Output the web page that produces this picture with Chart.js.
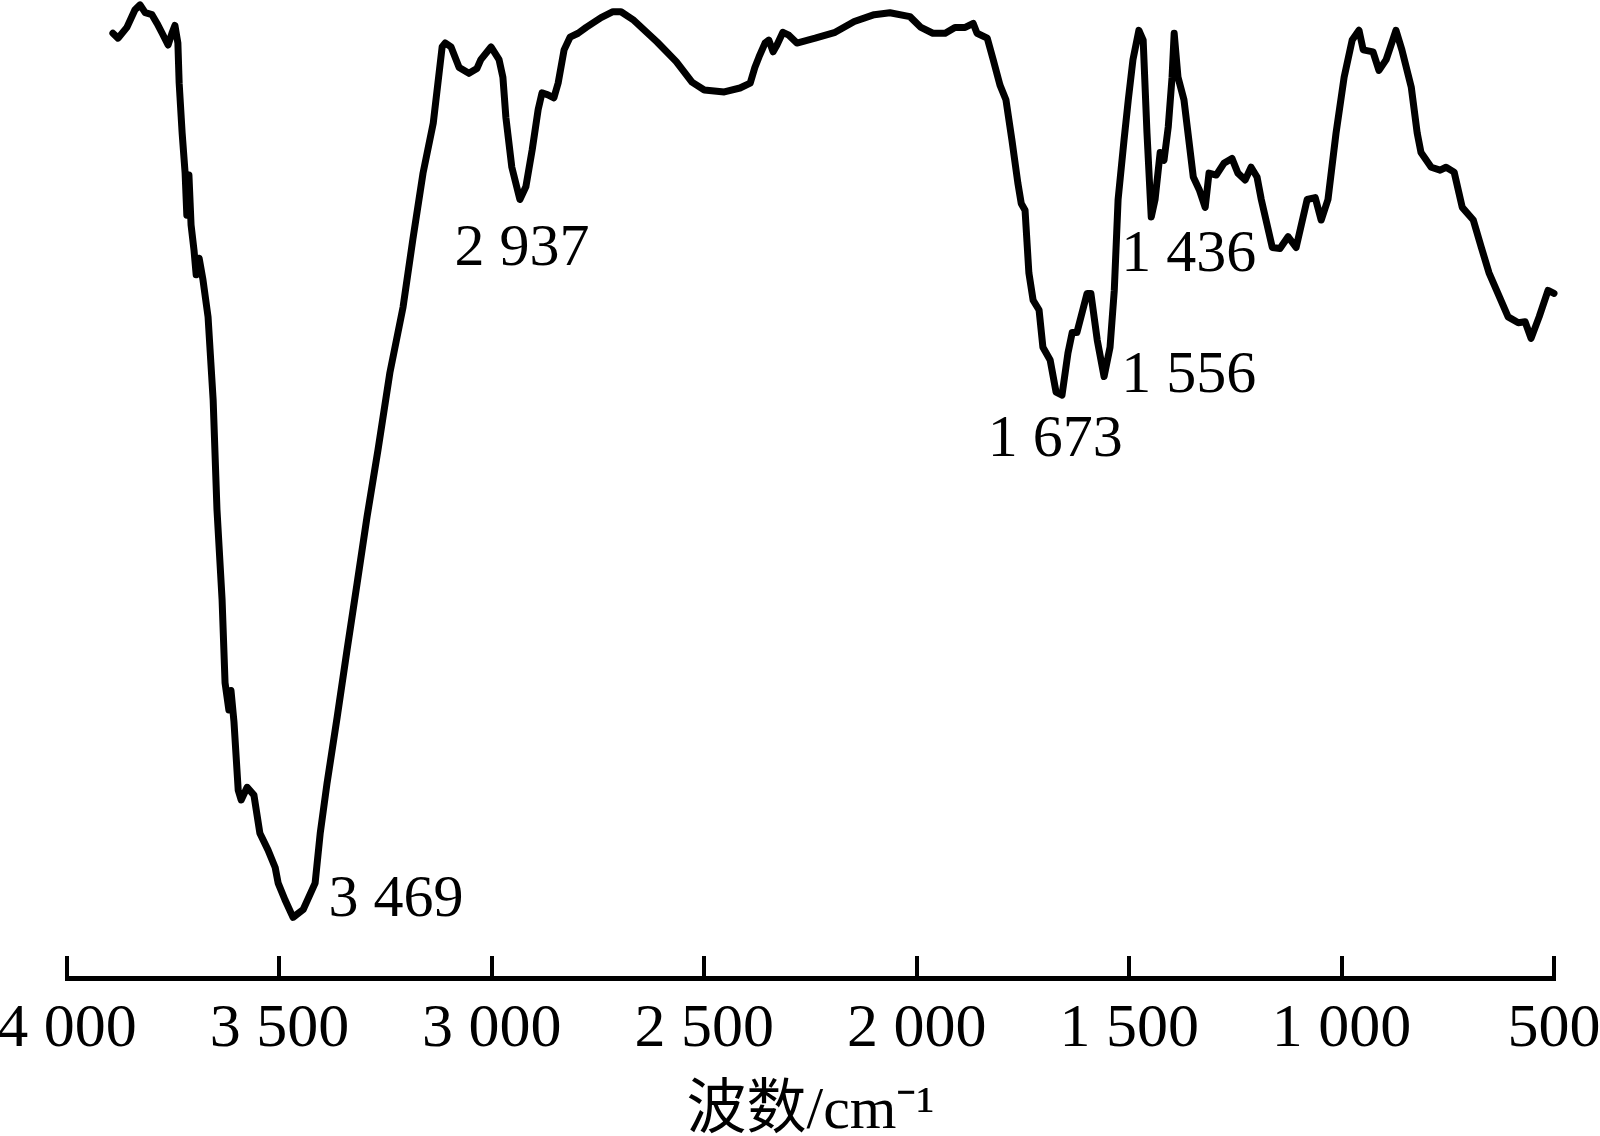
<!DOCTYPE html>
<html>
<head>
<meta charset="utf-8">
<script src="https://cdn.jsdelivr.net/npm/chart.js@4/dist/chart.umd.min.js"></script>
<style>
  html, body { margin: 0; padding: 0; background: #fff; }
  #wrap { width: 1600px; height: 1136px; position: relative; }
</style>
</head>
<body>
<div id="wrap"><canvas id="grafico"></canvas></div>
<script>
// FTIR spectrum (wavenumber in cm-1, relative transmittance)
const wavenumbers = [
  3892, 3880, 3859, 3840, 3828, 3816, 3800, 3788, 3776, 3762,
  3753, 3746, 3739, 3736, 3729, 3722, 3718, 3713, 3708, 3701,
  3696, 3689, 3680, 3668, 3656, 3647, 3635, 3628, 3619, 3614,
  3607, 3597, 3590, 3576, 3560, 3546, 3527, 3510, 3503, 3487,
  3468, 3444, 3416, 3404, 3388, 3364, 3341, 3317, 3294, 3268,
  3240, 3209, 3186, 3162, 3138, 3117, 3110, 3096, 3077, 3054,
  3035, 3026, 3002, 2983, 2974, 2967, 2953, 2934, 2920, 2905,
  2891, 2882, 2868, 2854, 2844, 2830, 2816, 2797, 2778, 2743,
  2715, 2696, 2668, 2611, 2566, 2529, 2500, 2453, 2416, 2392,
  2381, 2371, 2357, 2348, 2338, 2329, 2315, 2301, 2282, 2239,
  2192, 2147, 2100, 2063, 2016, 1990, 1962, 1933, 1910, 1886,
  1867, 1858, 1834, 1820, 1804, 1790, 1776, 1762, 1754, 1745,
  1736, 1726, 1712, 1703, 1686, 1672, 1658, 1644, 1634, 1623,
  1599, 1590, 1575, 1559, 1545, 1535, 1526, 1512, 1502, 1491,
  1477, 1467, 1458, 1448, 1439, 1427, 1418, 1408, 1399, 1394,
  1385, 1371, 1349, 1335, 1321, 1312, 1295, 1277, 1258, 1244,
  1227, 1213, 1199, 1189, 1163, 1145, 1126, 1107, 1081, 1062,
  1048, 1032, 1013, 994, 975, 959, 949, 926, 912, 895,
  872, 858, 836, 822, 813, 789, 768, 754, 735, 716,
  690, 671, 653, 632, 608, 584, 568, 554, 535, 514,
  500
];
const transmittance = [
  96.6, 96.1, 97.2, 99.0, 99.5, 98.7, 98.5, 97.6, 96.6, 95.4,
  96.6, 97.4, 95.6, 91.5, 86.4, 82.3, 78.0, 82.1, 77.0, 74.4,
  71.9, 73.6, 71.4, 67.6, 59.1, 47.9, 38.7, 30.2, 27.4, 29.4,
  26.2, 19.2, 18.2, 19.5, 18.7, 14.8, 13.1, 11.3, 9.7, 8.0,
  6.2, 7.0, 9.7, 14.8, 19.9, 26.7, 33.5, 40.4, 47.1, 54.0,
  61.9, 68.6, 75.5, 82.3, 87.4, 95.2, 95.6, 95.2, 93.1, 92.5,
  93.0, 93.9, 95.2, 93.9, 92.1, 88.0, 82.9, 79.6, 80.9, 84.7,
  88.8, 90.5, 90.3, 90.0, 91.5, 94.9, 96.2, 96.6, 97.2, 98.2,
  98.8, 98.8, 98.0, 95.7, 93.7, 91.6, 90.8, 90.6, 91.0, 91.5,
  93.1, 94.2, 95.6, 95.9, 94.7, 95.4, 96.7, 96.4, 95.6, 96.1,
  96.7, 97.8, 98.5, 98.7, 98.3, 97.2, 96.6, 96.6, 97.2, 97.2,
  97.6, 96.6, 96.1, 93.9, 91.3, 89.8, 85.7, 81.3, 79.2, 78.5,
  72.1, 69.3, 68.3, 64.5, 63.2, 59.9, 59.6, 63.9, 66.0, 66.0,
  70.0, 70.0, 65.2, 61.5, 64.5, 70.3, 79.6, 85.7, 89.8, 93.9,
  96.9, 95.9, 86.4, 77.8, 79.6, 84.4, 83.6, 87.0, 92.1, 96.6,
  92.1, 89.8, 81.9, 80.6, 78.8, 82.3, 82.1, 83.3, 83.8, 82.3,
  81.6, 82.9, 81.9, 79.6, 74.7, 74.6, 75.8, 74.7, 79.6, 79.8,
  77.5, 79.6, 86.4, 92.1, 95.9, 96.9, 94.9, 94.7, 92.8, 93.9,
  96.9, 94.9, 91.1, 86.4, 84.4, 82.9, 82.6, 82.9, 82.4, 78.8,
  77.5, 74.7, 72.1, 70.0, 67.6, 67.0, 67.1, 65.4, 67.6, 70.3,
  70.0
];
const peakLabels = ['3 469', '2 937', '1 673', '1 556', '1 436'];
const peakWavenumbers = [3469, 2937, 1673, 1556, 1436];

const serif = '"Liberation Serif", "Times New Roman", "Noto Sans CJK SC", serif';

// where each peak label sits: px shift from the peak, height in transmittance units
const labelPlace = [
  { dx: 36, y: 7.9 },
  { dx: -64, y: 74.5 },
  { dx: -68, y: 55.0 },
  { dx: 16, y: 61.5 },
  { dx: -35, y: 73.9 }
];

const peakLabelPlugin = {
  id: 'peakLabels',
  afterDatasetsDraw(chart) {
    const { ctx, scales: { x, y } } = chart;
    ctx.save();
    ctx.fillStyle = '#000';
    ctx.font = '60px ' + serif;
    ctx.textAlign = 'left';
    ctx.textBaseline = 'middle';
    peakLabels.forEach((txt, i) => {
      const p = labelPlace[i];
      ctx.fillText(txt, x.getPixelForValue(peakWavenumbers[i]) + p.dx, y.getPixelForValue(p.y));
    });
    ctx.restore();
  }
};

function fmt(v) {
  if (v >= 1000) return Math.floor(v / 1000) + ' ' + String(v % 1000).padStart(3, '0');
  return String(v);
}

new Chart(document.getElementById('grafico'), {
  type: 'line',
  data: {
    datasets: [{
      data: wavenumbers.map((w, i) => ({ x: w, y: transmittance[i] })),
      borderColor: '#000',
      borderWidth: 7,
      pointRadius: 0,
      tension: 0,
      borderJoinStyle: 'round',
      borderCapStyle: 'round',
      clip: false
    }]
  },
  options: {
    responsive: true,
    maintainAspectRatio: false,
    animation: false,
    devicePixelRatio: 1,
    layout: { padding: { left: 67, right: 46, top: 0, bottom: 0 } },
    plugins: { legend: { display: false }, tooltip: { enabled: false } },
    scales: {
      x: {
        type: 'linear',
        reverse: true,
        min: 500,
        max: 4000,
        afterFit(s) {
          s.height = 158;
          s.paddingLeft = 0;
          s.paddingRight = 0;
        },
        border: { display: true, width: 5, color: '#000' },
        grid: { drawOnChartArea: false, drawTicks: true, tickLength: -22, lineWidth: 4, color: '#000' },
        ticks: {
          stepSize: 500,
          autoSkip: false,
          maxRotation: 0,
          padding: 37,
          color: '#000',
          font: { family: serif, size: 62 },
          callback: v => fmt(v)
        },
        title: {
          display: true,
          text: '波数/cm⁻¹',
          color: '#000',
          font: { family: serif, size: 60 },
          padding: { top: 0, bottom: -12 }
        }
      },
      y: { display: false, min: 0, max: 100 }
    }
  },
  plugins: [peakLabelPlugin]
});
</script>
</body>
</html>
